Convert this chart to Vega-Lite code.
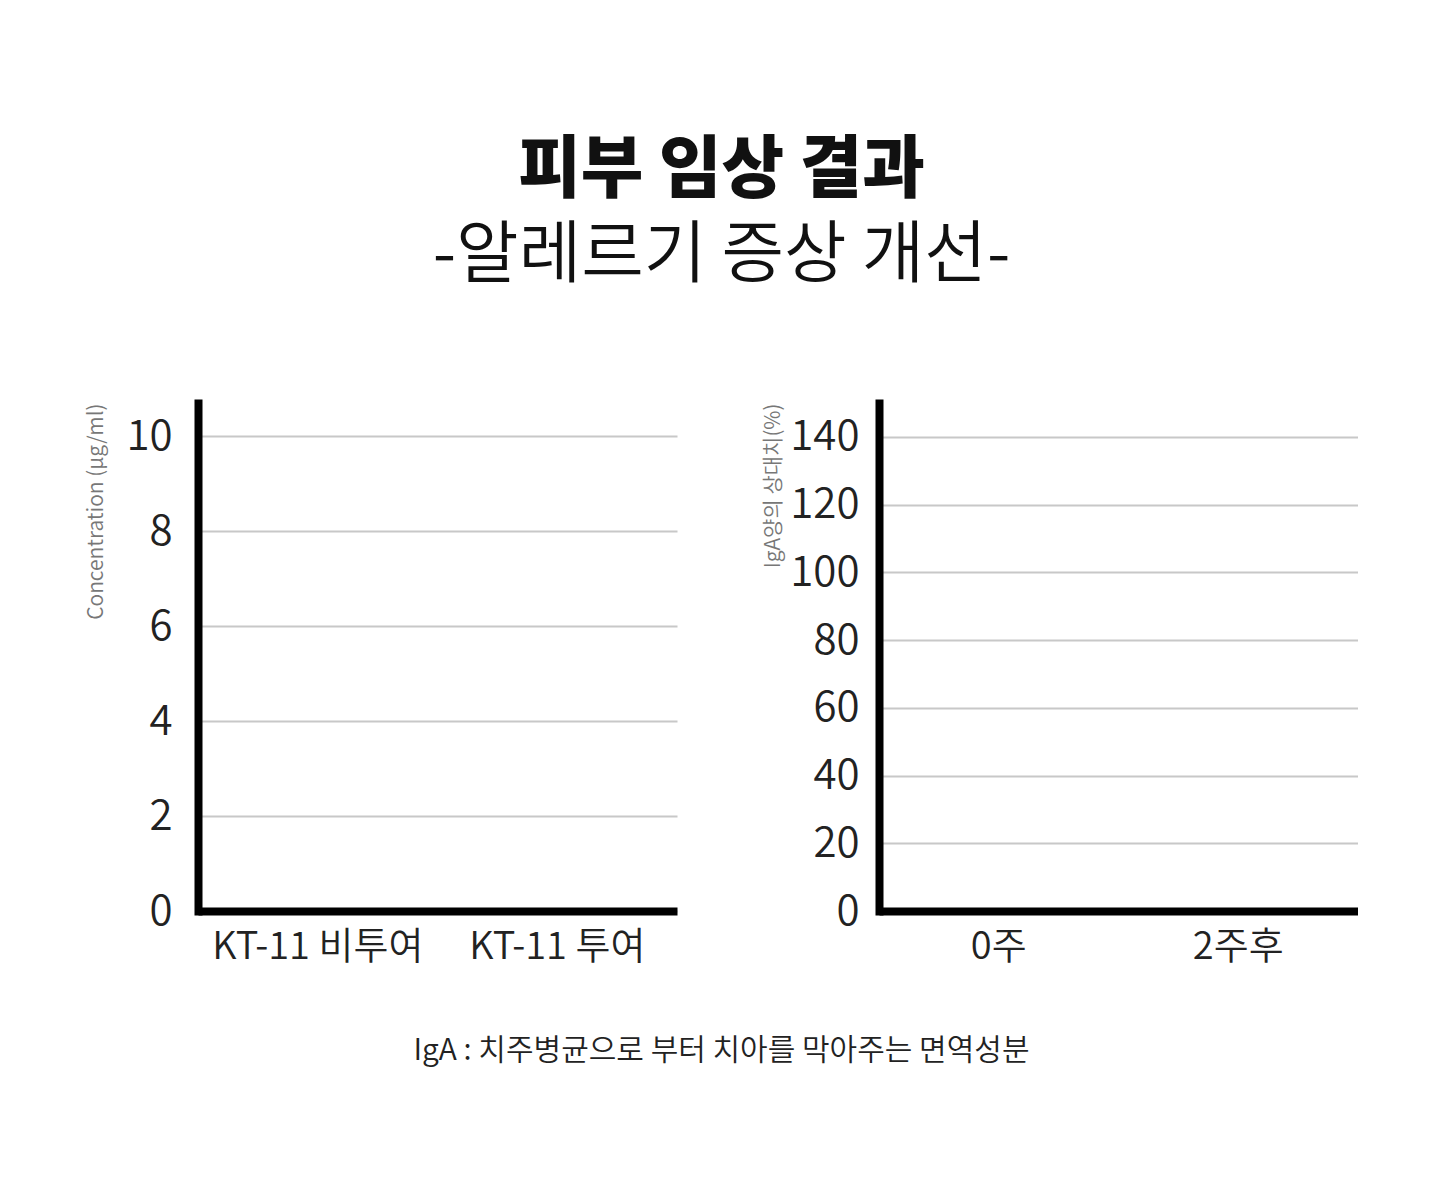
{
  "$schema": "https://vega.github.io/schema/vega-lite/v6.json",
  "background": "white",
  "padding": {"left": 84, "top": 138, "right": 0, "bottom": 40},
  "title": {
    "text": "피부 임상 결과",
    "subtitle": "-알레르기 증상 개선-",
    "anchor": "middle",
    "font": "Noto Sans CJK KR",
    "fontSize": 68,
    "fontWeight": 900,
    "color": "#111111",
    "subtitleFont": "Noto Sans CJK KR",
    "subtitleFontSize": 68,
    "subtitleFontWeight": 350,
    "subtitleColor": "#111111",
    "subtitlePadding": 17,
    "offset": 112
  },
  "vconcat": [
    {
      "title": {
        "text": "IgA : 치주병균으로 부터 치아를 막아주는 면역성분",
        "orient": "bottom",
        "anchor": "middle",
        "font": "Noto Sans CJK KR",
        "fontSize": 30,
        "fontWeight": 350,
        "color": "#222222",
        "offset": 70
      },
      "spacing": 84,
      "hconcat": [
        {
          "width": 479,
          "height": 508,
          "data": {
            "values": [
              {"group": "KT-11 비투여", "value": 0},
              {"group": "KT-11 투여", "value": 0}
            ]
          },
          "mark": {"type": "bar", "color": "#888888"},
          "encoding": {
            "x": {
              "field": "group",
              "type": "nominal",
              "sort": null,
              "scale": {"paddingInner": 0.4, "paddingOuter": 0.2},
              "axis": {"title": null}
            },
            "y": {
              "field": "value",
              "type": "quantitative",
              "scale": {"domain": [0, 10.7], "nice": false},
              "axis": {
                "title": "Concentration (μg/ml)",
                "values": [0, 2, 4, 6, 8, 10],
                "labelPadding": 26,
                "minExtent": 72,
                "maxExtent": 72,
                "titlePadding": 20
              }
            }
          }
        },
        {
          "width": 479,
          "height": 508,
          "data": {
            "values": [
              {"week": "0주", "value": 0},
              {"week": "2주후", "value": 0}
            ]
          },
          "mark": {"type": "bar", "color": "#888888"},
          "encoding": {
            "x": {
              "field": "week",
              "type": "nominal",
              "sort": null,
              "scale": {"paddingInner": 0.4, "paddingOuter": 0.2},
              "axis": {"title": null}
            },
            "y": {
              "field": "value",
              "type": "quantitative",
              "scale": {"domain": [0, 150], "nice": false},
              "axis": {
                "title": "IgA양의 상대치(%)",
                "values": [0, 20, 40, 60, 80, 100, 120, 140],
                "labelPadding": 20,
                "minExtent": 92,
                "maxExtent": 92,
                "titlePadding": 4
              }
            }
          }
        }
      ]
    }
  ],
  "config": {
    "font": "Noto Sans CJK KR",
    "view": {"stroke": null},
    "axis": {
      "domainColor": "black",
      "domainWidth": 8,
      "ticks": false,
      "tickSize": 0,
      "labelFont": "Noto Sans CJK KR",
      "labelFontWeight": 350,
      "labelColor": "#222222",
      "titleFont": "Noto Sans CJK KR"
    },
    "axisX": {"grid": false, "labelFontSize": 38, "labelPadding": 17, "labelAngle": 0, "labelLimit": 0},
    "axisY": {
      "grid": true,
      "gridColor": "#c8c8c8",
      "gridWidth": 2,
      "labelFontSize": 42,
      "domainCap": "square",
      "titleFontSize": 21,
      "titleFontWeight": 350,
      "titleColor": "#777777",
      "titleAnchor": "end"
    }
  }
}
